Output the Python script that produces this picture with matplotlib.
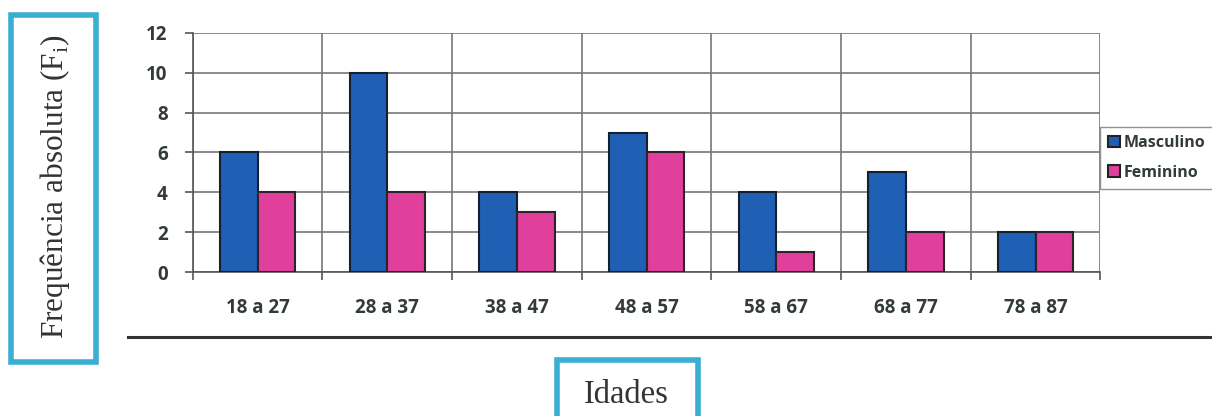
import matplotlib.pyplot as plt
from matplotlib.patches import Rectangle
import numpy as np

idades = ['18 a 27', '28 a 37', '38 a 47', '48 a 57', '58 a 67', '68 a 77', '78 a 87']
masculino = [6, 10, 4, 7, 4, 5, 2]
feminino = [4, 4, 3, 6, 1, 2, 2]

azul = '#1f5fb4'
rosa = '#e0409c'
cinza = '#333a3c'

fig = plt.figure(figsize=(12.12, 4.16), dpi=100)
ax = fig.add_axes([0.159, 0.346, 0.749, 0.575])

x = np.arange(len(idades))
w = 0.29
ax.bar(x - w / 2, masculino, w, color=azul, edgecolor='#15202c', linewidth=1.5, label='Masculino', zorder=3)
ax.bar(x + w / 2, feminino, w, color=rosa, edgecolor='#30222a', linewidth=1.5, label='Feminino', zorder=3)

ax.set_xlim(-0.5, len(idades) - 0.5)
ax.set_ylim(0, 12)
ax.set_yticks(range(0, 13, 2))
ax.set_xticks(x)
ax.set_xticklabels(idades)
ax.set_xticks(np.arange(-0.5, len(idades), 1), minor=True)
ax.grid(True, axis='y', color='#777777', linewidth=1.2, zorder=0)
ax.grid(True, axis='x', which='minor', color='#777777', linewidth=1.2, zorder=0)
ax.tick_params(axis='x', which='major', length=0, pad=19)
ax.tick_params(axis='x', which='minor', length=6, width=1.2, color='#555555')
ax.tick_params(axis='y', length=6, width=1.2, color='#555555', pad=12)
for lab in ax.get_xticklabels() + ax.get_yticklabels():
    lab.set_fontfamily('Open Sans')
    lab.set_fontweight('bold')
    lab.set_fontsize(13.5)
    lab.set_color(cinza)
for s in ['top', 'right']:
    ax.spines[s].set_visible(False)
ax.spines['left'].set_color('#555555')
ax.spines['bottom'].set_color('#555555')
ax.spines['left'].set_linewidth(1.2)
ax.spines['bottom'].set_linewidth(1.2)

leg = fig.legend(loc='upper left', bbox_to_anchor=(1100 / 1212, 1 - 127 / 416),
                 frameon=True, fancybox=False, edgecolor='#777777',
                 handlelength=0.75, handleheight=0.75, handletextpad=0.25,
                 borderpad=0.5, labelspacing=0.85, borderaxespad=0,
                 prop={'family': 'Open Sans', 'weight': 'bold', 'size': 11.5})
for t in leg.get_texts():
    t.set_color(cinza)
for h in leg.legend_handles:
    h.set_edgecolor('#222222')

# linha horizontal abaixo do gráfico
fig.add_artist(plt.Line2D([128 / 1212, 1.0], [1 - 337 / 416, 1 - 337 / 416],
                          color='#333333', linewidth=2.2))

# caixa do rótulo do eixo y
fig.add_artist(Rectangle((11 / 1212, 1 - 362 / 416), 85 / 1212, 347 / 416,
                         fill=False, edgecolor='#3aaed3', linewidth=4))
fig.text(55 / 1212, 1 - 187 / 416, r'Frequência absoluta (F$_\mathregular{i}$)',
         rotation=90, ha='center', va='center', fontsize=22.5,
         family='Liberation Serif', color='#333333')

# caixa do rótulo do eixo x
fig.add_artist(Rectangle((557 / 1212, -0.05), 141 / 1212, 1 - 360 / 416 + 0.05,
                         fill=False, edgecolor='#3aaed3', linewidth=4))
fig.text(626 / 1212, 1 - 395 / 416, 'Idades', ha='center', va='center',
         fontsize=23.5, family='Liberation Serif', color='#333333')

fig.savefig('out.png', dpi=100)
